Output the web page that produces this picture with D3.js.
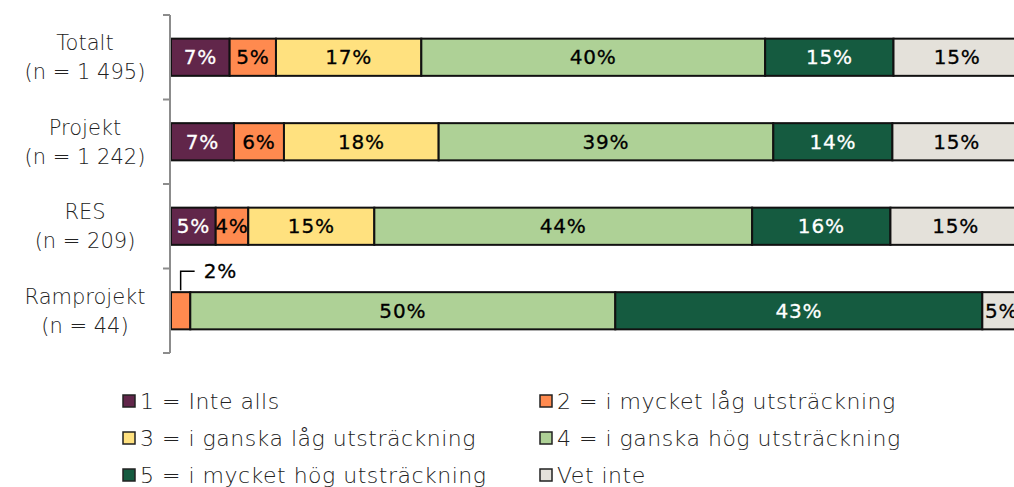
<!DOCTYPE html>
<html>
<head>
<meta charset="utf-8">
<script src="https://cdn.jsdelivr.net/npm/d3@7"></script>
<style>
  body { margin: 0; background: #fff; }
  svg { display: block; font-family: "DejaVu Sans", sans-serif; }
</style>
</head>
<body>
<svg width="1014" height="487"></svg>
<script>
// data
const groups = ["Totalt", "Projekt", "RES", "Ramprojekt"];
const groupN = ["(n = 1 495)", "(n = 1 242)", "(n = 209)", "(n = 44)"];
const answers = ["1 = Inte alls", "2 = i mycket låg utsträckning", "3 = i ganska låg utsträckning",
                 "4 = i ganska hög utsträckning", "5 = i mycket hög utsträckning", "Vet inte"];
const colors = ["#61264a", "#ff8a4f", "#ffe17f", "#aed196", "#155b40", "#e4e1da"];
const labelColors = ["#fff", "#000", "#000", "#000", "#fff", "#000"];

// andelar i procent per svarsalternativ
const totalt     = [6.90, 5.45, 17.10, 40.45, 15.10, 15.00];
const projekt    = [7.41, 5.88, 18.20, 39.37, 14.01, 15.13];
const res        = [5.26, 3.83, 14.83, 44.45, 16.27, 15.36];
const ramprojekt = [0, 2.27, 0, 50.00, 43.18, 4.55];
const values = [totalt, projekt, res, ramprojekt];

const svg = d3.select("svg");

const x = d3.scaleLinear().domain([0, 100]).range([171, 1021]);
const y = d3.scaleBand().domain(groups).range([15, 353]).paddingInner(0.56).paddingOuter(0.28);

// stapla segmenten
const segs = [];
values.forEach((row, gi) => {
    let acc = 0;
    row.forEach((v, ai) => {
        segs.push({ g: groups[gi], a: ai, x0: acc, x1: acc + v, v: v });
        acc += v;
    });
});

const bars = svg.append("g");
bars.selectAll("rect")
    .data(segs.filter(d => d.v > 0))
    .enter().append("rect")
    .attr("x", d => x(d.x0))
    .attr("y", d => y(d.g))
    .attr("width", d => x(d.x1) - x(d.x0))
    .attr("height", y.bandwidth())
    .style("fill", d => colors[d.a])
    .style("stroke", "#111")
    .style("stroke-width", 2);

// etiketter i staplarna (2% för Ramprojekt sätts utanför)
const inside = segs.filter(d => d.v > 0 && !(d.g === "Ramprojekt" && d.a === 1));
svg.append("g").selectAll("text")
    .data(inside)
    .enter().append("text")
    .attr("x", d => (x(d.x0) + x(d.x1)) / 2)
    .attr("y", d => y(d.g) + y.bandwidth() / 2)
    .attr("dy", "0.36em")
    .attr("text-anchor", "middle")
    .style("font-size", "20px")
    .style("letter-spacing", "0.8px")
    .style("fill", d => labelColors[d.a])
    .style("stroke", d => labelColors[d.a])
    .style("stroke-width", 0.3)
    .text(d => Math.round(d.v) + "%");

// 2% med hänvisningslinje
const small = segs.find(d => d.g === "Ramprojekt" && d.a === 1);
const sx = (x(small.x0) + x(small.x1)) / 2;
const sy = y("Ramprojekt");
svg.append("path")
    .attr("d", `M${sx},${sy - 2} V${sy - 21} H${sx + 14}`)
    .style("fill", "none")
    .style("stroke", "#000")
    .style("stroke-width", 1.5);
svg.append("text")
    .attr("x", sx + 23)
    .attr("y", sy - 21)
    .attr("dy", "0.36em")
    .style("font-size", "20px")
    .style("letter-spacing", "0.8px")
    .style("stroke", "#000")
    .style("stroke-width", 0.3)
    .text(Math.round(small.v) + "%");

// y-axel med streck mellan grupperna
const axisX = 170;
const axis = svg.append("g").style("stroke", "#8c8c8c").style("stroke-width", 2);
axis.append("line").attr("x1", axisX).attr("x2", axisX).attr("y1", 15).attr("y2", 353);
const bounds = groups.map(g => y(g) - y.step() * y.paddingInner() / 2).concat([353]);
axis.selectAll("line.tick")
    .data(bounds)
    .enter().append("line")
    .attr("class", "tick")
    .attr("x1", axisX - 7).attr("x2", axisX)
    .attr("y1", d => d).attr("y2", d => d);

// kategorietiketter
const cat = svg.append("g");
groups.forEach((g, i) => {
    const cy = y(g) + y.bandwidth() / 2;
    const t = cat.append("text")
        .attr("text-anchor", "middle")
        .style("font-size", "21px")
        .style("font-weight", 200)
        .style("fill", "#222");
    t.append("tspan").attr("x", 85).attr("y", cy - 7).text(g);
    t.append("tspan").attr("x", 85).attr("y", cy + 22).text(groupN[i]);
});

// förklaring
const legend = svg.append("g");
answers.forEach((a, i) => {
    const lx = i % 2 === 0 ? 123 : 540;
    const ly = 401 + Math.floor(i / 2) * 37;
    legend.append("rect")
        .attr("x", lx).attr("y", ly - 6)
        .attr("width", 12).attr("height", 12)
        .style("fill", colors[i])
        .style("stroke", "#222")
        .style("stroke-width", 1.5);
    legend.append("text")
        .attr("x", lx + 17).attr("y", ly)
        .attr("dy", "0.36em")
        .style("font-size", "22px")
        .style("font-weight", 200)
        .style("letter-spacing", "0.5px")
        .style("fill", "#222")
        .text(a);
});
</script>
</body>
</html>
